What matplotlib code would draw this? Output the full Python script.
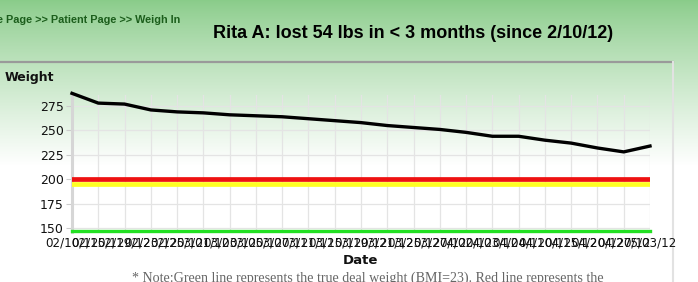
import numpy as np
import matplotlib
matplotlib.use("Agg")
import matplotlib.pyplot as plt
from matplotlib.lines import Line2D

dates = ["02/10/12", "02/15/12", "02/19/12", "02/23/12", "02/25/12", "03/01/12",
         "03/03/12", "03/05/12", "03/07/12", "03/11/12", "03/15/12", "03/19/12",
         "03/21/12", "03/25/12", "03/27/12", "04/02/12", "04/03/12", "04/04/12",
         "04/10/12", "04/15/12", "04/20/12", "04/27/12", "05/03/12"]
weights = [288, 278, 277, 271, 269, 268, 266, 265, 264, 262, 260, 258,
           255, 253, 251, 248, 244, 244, 240, 237, 232, 228, 234]
red_level = 200
yellow_level = 195.5
green_level = 147
yticks = [150, 175, 200, 225, 250, 275]

W, H = 698, 282
fig = plt.figure(figsize=(W / 100, H / 100), dpi=100)

# background gradient
bg = fig.add_axes([0, 0, 1, 1], zorder=-10)
rows = np.arange(H)
t = np.clip(rows / 165.0, 0, 1) ** 0.85
top = np.array([0.54, 0.80, 0.54])
grad = top[None, :] * (1 - t[:, None]) + np.ones(3)[None, :] * t[:, None]
img = np.repeat(grad[:, None, :], W, axis=1)
bg.imshow(img, aspect="auto", extent=[0, W, H, 0])
bg.set_xlim(0, W)
bg.set_ylim(H, 0)
bg.axis("off")
# panel borders
bg.add_line(Line2D([0, 673], [62, 62], color="#9a9a9a", lw=1.6))
bg.add_line(Line2D([673, 673], [62, H], color="#e2e2e2", lw=1.5))

ax = fig.add_axes([72 / W, (H - 232) / H, (650 - 72) / W, (232 - 95) / H])
ax.set_facecolor("none")
x = np.arange(len(dates))
ax.set_xlim(0, len(dates) - 1)
ax.set_ylim(145.9, 286.3)
ax.set_xticks(x)
ax.set_xticklabels(dates, fontsize=8.6, color="#111111")
ax.set_yticks(yticks)
ax.set_yticklabels([str(v) for v in yticks], fontsize=9, color="#111111")
ax.grid(True, color="#e4e4e4", lw=0.9)
ax.set_axisbelow(True)
for s in ["top", "right", "bottom"]:
    ax.spines[s].set_visible(False)
ax.spines["left"].set_color("#d6d6d6")
ax.spines["left"].set_linewidth(2.2)
ax.tick_params(axis="y", length=4, color="#cccccc", pad=2)
ax.tick_params(axis="x", length=0, pad=3)

ax.axhline(yellow_level, color="#ffff22", lw=3.4, zorder=3)
ax.axhline(red_level, color="#ee1111", lw=3.4, zorder=4)
ax.axhline(green_level, color="#22e022", lw=2.4, zorder=3, clip_on=False)
ax.plot(x, weights, color="black", lw=2.4, zorder=5, clip_on=False,
        solid_joinstyle="round")

fig.text(5 / W, (H - 78) / H, "Weight", fontsize=9, fontweight="bold",
         ha="left", va="center", color="#111111")
fig.text(360 / W, (H - 261) / H, "Date", fontsize=9.5, fontweight="bold",
         ha="center", va="center", color="#111111")
fig.text(413 / W, (H - 33) / H, "Rita A: lost 54 lbs in < 3 months (since 2/10/12)",
         fontsize=13, fontweight="bold", ha="center", va="center",
         family="Liberation Sans", color="black")
fig.text(-3 / W, (H - 20) / H, "e Page >> Patient Page >> Weigh In",
         fontsize=7.8, fontweight="bold", ha="left", va="center",
         family="Liberation Sans", color="#1c5e1c")
fig.text(132 / W, (H - 272) / H,
         "* Note:Green line represents the true deal weight (BMI=23). Red line represents the",
         fontsize=10.1, ha="left", va="top", family="Liberation Serif", color="#666666")

fig.savefig("out.png", dpi=100)
